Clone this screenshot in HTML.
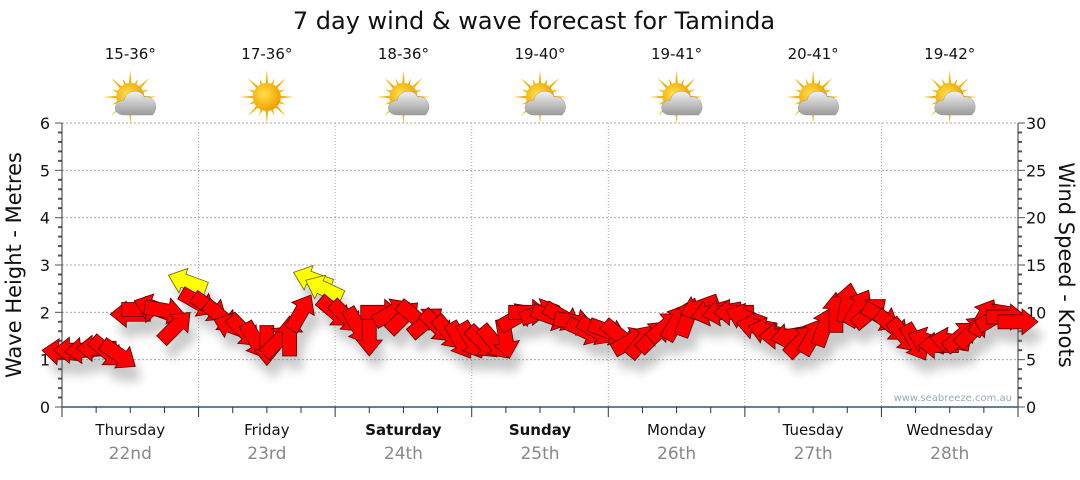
<!DOCTYPE html>
<html><head><meta charset="utf-8"><style>
body{margin:0;background:#fff;width:1080px;height:475px;overflow:hidden}
svg text{font-family:"DejaVu Sans","Liberation Sans",sans-serif}
</style></head><body>
<svg id="chart" width="1080" height="475" viewBox="0 0 1080 475" xmlns="http://www.w3.org/2000/svg">
<defs>
<filter id="sh" x="-50%" y="-50%" width="200%" height="200%"><feGaussianBlur stdDeviation="5"/></filter>
<radialGradient id="sunG" cx="0.4" cy="0.4" r="0.6"><stop offset="0" stop-color="#ffe34a"/><stop offset="1" stop-color="#f0a000"/></radialGradient>
<linearGradient id="cloudG" x1="0" y1="0" x2="0" y2="1"><stop offset="0" stop-color="#f2f2f2"/><stop offset="1" stop-color="#9a9a9a"/></linearGradient>
</defs>
<text x="534" y="29" font-size="24" text-anchor="middle" fill="#111">7 day wind &amp; wave forecast for Taminda</text>
<g id="grid"></g>
<g id="icons"></g>
<g id="axes"></g>
<g id="shadows" filter="url(#sh)" opacity="0.35"></g>
<g id="arrows"></g>
<text x="1012" y="401" font-size="10" text-anchor="end" fill="#9aaabb">www.seabreeze.com.au</text>
<text transform="translate(21,265) rotate(-90)" font-size="21" text-anchor="middle" fill="#111">Wave Height - Metres</text>
<text transform="translate(1059,265) rotate(90)" font-size="21" text-anchor="middle" fill="#111">Wind Speed - Knots</text>
</svg>
<script>
const days=["Thursday","Friday","Saturday","Sunday","Monday","Tuesday","Wednesday"];
const dates=["22nd","23rd","24th","25th","26th","27th","28th"];
const bold=[false,false,true,true,false,false,false];
const temps=["15-36°","17-36°","18-36°","19-40°","19-41°","20-41°","19-42°"];
const cloudy=[true,false,true,true,true,true,true];
const waveTicks=[0,1,2,3,4,5,6];
const windTicks=[0,5,10,15,20,25,30];
// wind every 2 hours, knots
const windSpeed=[5.8,6.0,6.0,6.2,5.8,5.5,9.8,10.3,10.5,10.2,8.5,13.2,
11,10.5,9.5,8.5,8,7,6.5,7.0,7.5,10,13.5,12.5,
10,9.5,8.5,7.5,10,10,9.5,9.5,9.0,8.5,7.8,7.0,
7,6.8,6.8,7.2,9.5,10,10,9.5,9.5,9,8,8,
8,7.5,7,7,7.5,8.5,9,9.5,10.5,10,10,10,
9.5,8.5,8,7.5,7.5,7,7.5,8.5,10,11,10.5,10,
9.5,8.5,7.5,6.8,7,6.5,7,7.5,8,9.5,9.5,9.5,9];
// screen direction the arrow points (deg, 0=right, 90=down)
const windDir=[185,180,175,180,40,35,180,0,200,10,315,200,
30,35,40,200,45,60,90,315,270,300,200,205,
40,45,60,90,0,330,315,40,320,45,50,60,
60,45,50,80,330,0,340,20,30,10,25,30,
20,40,330,310,315,320,300,290,160,165,170,180,
200,190,195,180,170,315,300,290,270,280,300,320,
30,40,50,60,200,180,190,320,315,300,330,0,0];
const windColor=["r","r","r","r","r","r","r","r","r","r","r","y",
"r","r","r","r","r","r","r","r","r","r","y","y",
"r","r","r","r","r","r","r","r","r","r","r","r",
"r","r","r","r","r","r","r","r","r","r","r","r",
"r","r","r","r","r","r","r","r","r","r","r","r",
"r","r","r","r","r","r","r","r","r","r","r","r",
"r","r","r","r","r","r","r","r","r","r","r","r","r"];
const NS="http://www.w3.org/2000/svg";
const X0=62,X1=1018,Y0=407,Y1=123,DAYW=(X1-X0)/7;
const xh=h=>X0+h*DAYW/24;
const yM=m=>Y0-m*(Y0-Y1)/6;
const yK=k=>Y0-k*(Y0-Y1)/30;
function mk(tag,attrs,parent,txt){const e=document.createElementNS(NS,tag);for(const k in attrs)e.setAttribute(k,attrs[k]);if(txt!==undefined)e.textContent=txt;parent.appendChild(e);return e;}
const grid=document.getElementById('grid'),axes=document.getElementById('axes'),icons=document.getElementById('icons');
waveTicks.forEach(v=>{if(v>0){const l=mk('line',{x1:X0,x2:X1,y1:yM(v),y2:yM(v),stroke:'#aaa','stroke-dasharray':'2,2'},grid);

}
const t=mk('text',{x:50,y:yM(v)+6,'font-size':16,'text-anchor':'end',fill:'#111'},axes,String(v));

});
windTicks.forEach(v=>{const t=mk('text',{x:1026,y:yK(v)+6,'font-size':16,fill:'#111'},axes,String(v));

});
for(let i=0;i<=30;i++){const y=Y0-i*(Y0-Y1)/30;
mk('line',{x1:X0-(i%5==0?7:4),x2:X0,y1:y,y2:y,stroke:'#555','stroke-width':i%5==0?1:2},axes);
mk('line',{x1:X1,x2:X1+(i%5==0?7:4),y1:y,y2:y,stroke:'#555','stroke-width':i%5==0?1:2},axes);}
mk('line',{x1:X0,x2:X0,y1:Y1,y2:Y0,stroke:'#333'},axes);
mk('line',{x1:X1,x2:X1,y1:Y1,y2:Y0,stroke:'#333'},axes);
mk('line',{x1:X0,x2:X1,y1:Y0,y2:Y0,stroke:'#1f5a8a','stroke-width':1.5},axes);
for(let h=0;h<=168;h+=6){const x=xh(h);mk('line',{x1:x,x2:x,y1:Y0,y2:Y0+(h%24==0?10:6),stroke:'#333'},axes);}
days.forEach((d,i)=>{const cx=X0+DAYW*(i+0.5);
if(i>0){const l=mk('line',{x1:X0+DAYW*i,x2:X0+DAYW*i,y1:Y1,y2:Y0,stroke:'#aaa','stroke-dasharray':'1,2'},grid);

}
const t=mk('text',{x:cx,y:435,'font-size':15,'text-anchor':'middle',fill:'#111','font-weight':bold[i]?'bold':'normal'},axes,d);


const t2=mk('text',{x:cx,y:459,'font-size':17,'text-anchor':'middle',fill:'#888'},axes,dates[i]);


const t3=mk('text',{x:cx,y:59,'font-size':15,'text-anchor':'middle',fill:'#111'},icons,temps[i]);


const g=mk('g',{transform:`translate(${cx},97)`},icons);


for(let a=0;a<16;a++){const r=a*Math.PI/8,L=a%2?20:27;
mk('polygon',{points:`${Math.cos(r-0.12)*12},${Math.sin(r-0.12)*12} ${Math.cos(r)*L},${Math.sin(r)*L} ${Math.cos(r+0.12)*12},${Math.sin(r+0.12)*12}`,fill:'#f2b400'},g);}
mk('circle',{cx:0,cy:0,r:14,fill:'url(#sunG)'},g);
if(cloudy[i]){mk('path',{d:'M-6,18 C-18,18 -18,4 -6,3 C-5,-7 11,-9 14,0 C25,-2 29,12 22,18 Z',fill:'url(#cloudG)',stroke:'#999','stroke-width':0.5},g);}
});
const A=document.getElementById('arrows'),S=document.getElementById('shadows');
const shape="-20,-7 4,-7 4,-13 20,0 4,13 4,7 -20,7";
windSpeed.forEach((k,i)=>{const x=xh(i*2),y=yK(k),d=windDir[i];
const s=mk('polygon',{points:shape,transform:`translate(${x+6},${y+14}) rotate(${d})`,fill:'#666'},S);


const p=mk('polygon',{points:shape,transform:`translate(${x},${y}) rotate(${d})`,fill:windColor[i]=='y'?'#ffff00':'#ff0000',stroke:windColor[i]=='y'?'#666600':'#550000','stroke-width':0.8},A);

});
</script>
</body></html>
